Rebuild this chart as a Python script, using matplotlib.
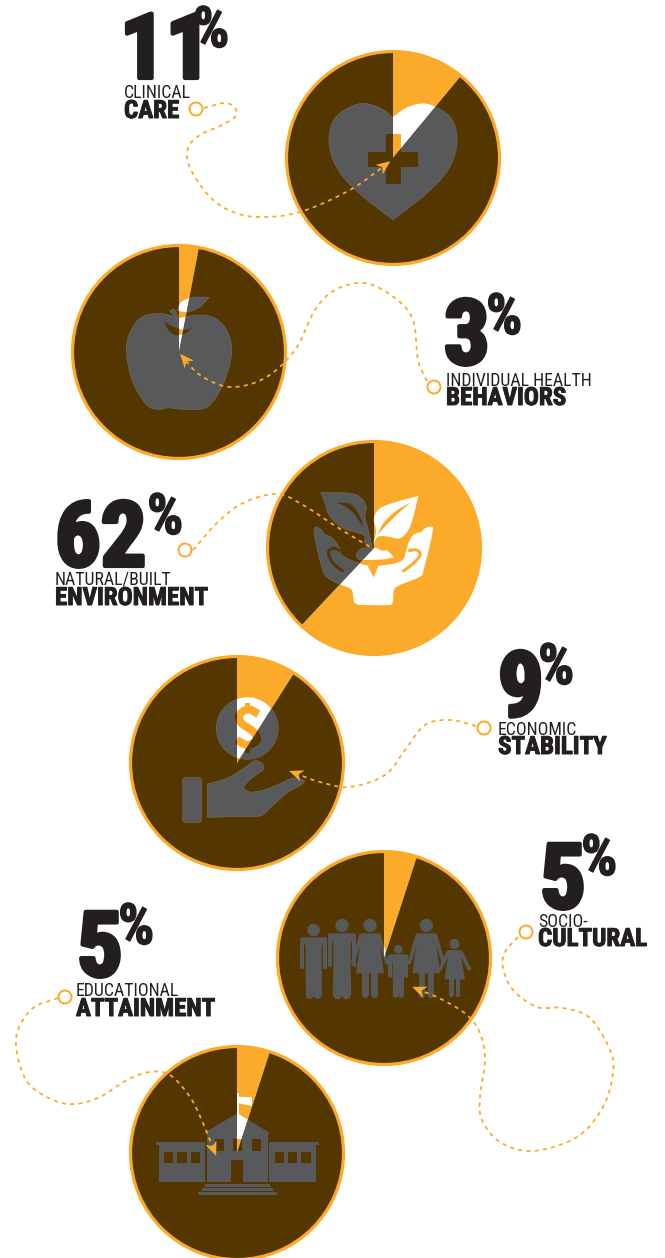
import numpy as np
import matplotlib
matplotlib.use('Agg')
import matplotlib.pyplot as plt
import matplotlib.patheffects as pe
from matplotlib.patches import Circle, Polygon

# === Data ===
categories = ['Clinical care', 'Individual health behaviors', 'Natural/built environment',
              'Economic stability', 'Socio-cultural', 'Educational attainment']
shares = [11, 3, 62, 9, 5, 5]
thin_labels = ['CLINICAL', 'INDIVIDUAL HEALTH', 'NATURAL/BUILT', 'ECONOMIC', 'SOCIO-', 'EDUCATIONAL']
bold_labels = ['CARE', 'BEHAVIORS', 'ENVIRONMENT', 'STABILITY', 'CULTURAL', 'ATTAINMENT']

# === Layout (all in image pixels) ===
W, H = 665, 1258
ORANGE = '#fcaa2a'
BROWN = '#533600'
GRAY = '#58595b'
INK = '#231f20'
FONT = ['Roboto Condensed', 'Liberation Sans']

centers = [(393, 158), (179, 352), (374, 548), (237, 763), (384, 958), (237, 1153)]
big_xy = [(120, 78), (444, 364), (55, 566), (498, 716), (540, 908), (77, 976)]
pct_xy = [(193, 47), (486, 334), (147, 534), (538, 684), (581, 875), (118, 944)]
thin_xy = [(124, 98), (446, 386), (55, 585), (498, 735), (538, 927), (76, 996)]
bold_xy = [(124, 118), (446, 405), (55, 605), (498, 754), (538, 946), (76, 1016)]
rings = [(196, 109), (434, 387), (185, 550), (484, 728), (526, 932), (65, 997)]

connectors = [
    [(204, 108), (225, 103), (235, 108), (235, 117), (220, 126), (200, 135), (188, 148), (190, 168),
     (210, 197), (233, 212), (260, 217), (300, 212), (350, 190), (388, 163)],
    [(427, 381), (418, 360), (413, 320), (395, 298), (365, 283), (335, 290), (315, 310), (295, 350),
     (265, 378), (230, 387), (200, 375), (182, 356)],
    [(193, 550), (217, 523), (243, 503), (277, 494), (303, 505), (337, 527), (370, 547)],
    [(476, 726), (450, 720), (425, 725), (405, 750), (385, 775), (350, 787), (320, 782), (292, 772)],
    [(518, 937), (505, 952), (503, 968), (513, 990), (537, 1007), (563, 1008), (590, 1018), (610, 1050),
     (613, 1073), (603, 1107), (577, 1137), (533, 1151), (500, 1142), (482, 1120), (480, 1097),
     (485, 1060), (480, 1033), (467, 1015), (443, 1000), (415, 988)],
    [(58, 998), (33, 1008), (18, 1030), (17, 1053), (28, 1083), (53, 1100), (75, 1104), (100, 1097),
     (127, 1080), (150, 1072), (170, 1075), (190, 1097), (203, 1123), (215, 1153)],
]
has_arrow = [True, True, False, True, True, True]


# === Geometry helpers ===
def curve(pts, n=14):
    """Catmull-Rom through pts, sampled as a polyline"""
    p = np.array(pts, float)
    if len(p) == 2:
        return p
    q = np.vstack([2 * p[0] - p[1], p, 2 * p[-1] - p[-2]])
    out = []
    for i in range(1, len(q) - 2):
        for t in np.linspace(0, 1, n, endpoint=False):
            out.append(0.5 * (2 * q[i] + (q[i + 1] - q[i - 1]) * t
                              + (2 * q[i - 1] - 5 * q[i] + 4 * q[i + 1] - q[i + 2]) * t ** 2
                              + (3 * q[i] - q[i - 1] - 3 * q[i + 1] + q[i + 2]) * t ** 3))
    out.append(p[-1])
    return np.array(out)


def outline(*segs):
    """Join curves; their end points stay as sharp corners"""
    return np.vstack([curve(s) for s in segs])


def crop(x0, y0, pts):
    return [(x0 + a / 3, y0 + b / 3) for a, b in pts]


def disc(cx, cy, r):
    t = np.linspace(0, 2 * np.pi, 64)
    return np.column_stack([cx + r * np.cos(t), cy + r * np.sin(t)])


def thick(pts, w):
    """Stroke a polyline into a polygon of width w"""
    c = curve(pts)
    d = np.gradient(c, axis=0)
    d /= np.linalg.norm(d, axis=1, keepdims=True)
    nrm = np.column_stack([-d[:, 1], d[:, 0]]) * w / 2
    return np.vstack([c + nrm, (c - nrm)[::-1]])


def box(x0, y0, x1, y1):
    return np.array([(x0, y0), (x1, y0), (x1, y1), (x0, y1)], float)


def rbox(x0, y0, x1, y1, r):
    pts = []
    for cx, cy, a in [(x1 - r, y0 + r, -90), (x1 - r, y1 - r, 0), (x0 + r, y1 - r, 90), (x0 + r, y0 + r, 180)]:
        t = np.radians(a + np.linspace(0, 90, 8))
        pts.append(np.column_stack([cx + r * np.cos(t), cy + r * np.sin(t)]))
    return np.vstack(pts)


# === Icons: (solid shapes, cut-outs) ===
def heart_icon():
    half = [(393, 220), (360, 194), (338, 170), (329, 143), (335, 118), (358, 104), (378, 107), (393, 117)]
    other = [(786 - x, y) for x, y in half][::-1]
    cross = [box(386, 134, 401, 184), box(368, 152, 418, 167)]
    return [outline(half, other)], cross


def apple_icon():
    z = lambda *p: crop(110, 280, p)
    body = outline(z((205, 115), (150, 100), (90, 115), (55, 170), (50, 230), (70, 310), (110, 375), (145, 388), (175, 383)),
                   z((175, 383), (205, 387), (270, 388), (305, 370), (345, 300), (365, 215), (350, 150), (310, 112), (260, 105), (205, 115)))
    leaf = outline(z((200, 92), (215, 65), (250, 52), (298, 52)), z((298, 52), (270, 80), (235, 96), (200, 92)))
    stem = np.array(z((178, 92), (192, 87), (206, 110), (200, 118)))
    crescent = outline(z((163, 125), (190, 140), (225, 150), (248, 142)), z((248, 142), (225, 160), (195, 165), (175, 150), (163, 125)))
    return [body, leaf, stem], [crescent]


def leaves_icon():
    z = lambda *p: crop(300, 480, p)
    left_leaf = outline(z((62, 37), (120, 38), (170, 45), (198, 75), (195, 110), (205, 150), (216, 200)),
                        z((216, 200), (195, 190), (190, 165), (130, 145), (90, 110), (75, 70), (62, 37)))
    right_leaf = outline(z((355, 48), (290, 65), (240, 85), (222, 115), (228, 155), (218, 195)),
                         z((218, 195), (235, 170), (265, 170), (300, 175), (325, 150), (340, 110), (355, 48)))
    hands = outline(z((50, 140), (42, 150), (50, 200), (68, 270), (85, 295), (125, 315), (155, 330), (162, 365), (175, 375)),
                    z((175, 375), (265, 375), (278, 365), (282, 330), (300, 315), (360, 290), (372, 265), (398, 155), (392, 140), (375, 145), (365, 155)),
                    z((365, 155), (340, 165), (325, 190), (318, 215), (300, 245), (220, 258), (165, 245), (125, 225), (120, 205), (95, 172), (75, 165), (65, 150), (50, 140)))
    soil = outline(z((168, 222), (185, 205), (215, 203), (232, 205), (245, 212), (262, 212), (282, 232)),
                   z((282, 232), (250, 238), (200, 240), (175, 238), (168, 222)))
    slit_l = outline(z((110, 68), (150, 72), (175, 100), (192, 145)), z((192, 145), (165, 105), (140, 82), (110, 68)))
    slit_r = outline(z((335, 65), (285, 95), (250, 130), (232, 165)), z((232, 165), (255, 140), (295, 100), (335, 65)))
    thumb_l = thick(z((122, 212), (100, 205), (85, 218), (100, 250), (130, 275)), 3.0)
    thumb_r = thick(z((325, 212), (350, 210), (360, 225), (340, 250), (308, 275)), 3.0)
    notch = np.array(z((203, 258), (235, 258), (221, 292)))
    return [left_leaf, right_leaf, hands, soil], [slit_l, slit_r, thumb_l, thumb_r, notch]


def coin_icon():
    z = lambda *p: crop(170, 690, p)
    coin = disc(247.3, 728.3, 31)
    cuff = rbox(182.7, 777.3, 201.7, 822.7, 3)
    hand = outline(z((112, 282), (170, 265), (225, 232), (255, 212), (278, 222), (278, 240), (245, 265), (222, 290),
                     (235, 305), (270, 303), (320, 285), (365, 265), (395, 268), (400, 280), (350, 310), (305, 350), (270, 378), (200, 380), (112, 382)),
                   z((112, 382), (112, 282)))
    dollar = thick(z((265, 72), (235, 58), (208, 75), (215, 100), (250, 125), (260, 150), (232, 165), (200, 150)), 8)
    bars = [np.array(z((225, 38), (240, 38), (240, 60), (225, 60))), np.array(z((225, 165), (240, 165), (240, 188), (225, 188)))]
    return [coin, cuff, hand], [dollar] + bars


def limb(a, b, w):
    ax_, ay_ = a
    bx_, by_ = b
    d = np.array([by_ - ay_, ax_ - bx_], float)
    d *= w / 2 / np.hypot(*d)
    rect = np.array([(ax_ + d[0], ay_ + d[1]), (bx_ + d[0], by_ + d[1]), (bx_ - d[0], by_ - d[1]), (ax_ - d[0], ay_ - d[1])])
    return [rect, disc(ax_, ay_, w / 2), disc(bx_, by_, w / 2)]


def family_icon():
    out = []
    z = lambda *p: crop(295, 910, p)
    men = [(56, 60, 19, 82, 40, 172, 24), (141, 46, 20, 70, 43, 165, 26), (310, 118, 13, 133, 30, 198, 17)]
    for cx, hy, hr, top, half, arm, torso in men:
        (hx, hyy), = z((cx, hy))
        out.append(disc(hx, hyy, hr / 3))
        out.append(np.array(z((cx - half + 6, top), (cx + half - 6, top), (cx + torso, top + 30), (cx + torso, 215), (cx - torso, 215), (cx - torso, top + 30))))
        for s in (-1, 1):
            out += limb(z((cx + s * (half - 6), top + 6))[0], z((cx + s * (half - 6), arm))[0], 12 / 3)
            out += limb(z((cx + s * torso / 2, 200))[0], z((cx + s * torso / 2, 255))[0], torso / 3)
    women = [(225, 46, 20, 70, 190, 42, 33), (394, 46, 20, 70, 190, 42, 33), (479, 102, 15, 120, 208, 31, 25)]
    for cx, hy, hr, top, hem, half, sh in women:
        (hx, hyy), = z((cx, hy))
        out.append(disc(hx, hyy, hr / 3))
        out.append(np.array(z((cx - sh + 8, top), (cx + sh - 8, top), (cx + half, hem), (cx - half, hem))))
        for s in (-1, 1):
            out += limb(z((cx + s * (sh - 6), top + 6))[0], z((cx + s * (sh + 18), hem - 32))[0], 11 / 3)
            out += limb(z((cx + s * half * 0.33, hem))[0], z((cx + s * half * 0.33, 255))[0], half * 0.45 / 3)
    return out, []


def school_icon():
    z = lambda *p: crop(0, 980, p)
    zbox = lambda a, b, c, d: np.array(z((a, b), (c, b), (c, d), (a, d)))
    solid = [zbox(622, 460, 803, 605), np.array(z((610, 460), (712, 400), (812, 460))),
             zbox(468, 487, 615, 495), zbox(477, 495, 615, 605),
             zbox(808, 487, 957, 495), zbox(808, 495, 947, 605),
             zbox(615, 612, 810, 620), zbox(606, 625, 818, 633), zbox(594, 637, 830, 645),
             zbox(711, 340, 716, 520), np.array(z((716, 350), (756, 352), (756, 378), (716, 370)))]
    holes = [zbox(a, 477, a + 27, 514) for a in (645, 698, 755)]
    holes += [zbox(a, 515, a + 28, 550) for a in (492, 532, 572, 824, 864, 904)]
    holes.append(zbox(694, 541, 730, 605))
    return solid, holes


icons = [heart_icon, apple_icon, leaves_icon, coin_icon, family_icon, school_icon]
icon_edges = ['#7f7258', '#7f7258', '#7f7258', '#7f7258', None, None]


# === Drawing ===
def paint(ax, shapes, wedges, on_orange, on_brown, edge=None):
    for shape in shapes:
        for wedge, color in zip(wedges, (on_orange, on_brown)):
            ec = edge if (edge and color == GRAY) else 'none'
            poly = Polygon(shape, closed=True, fc=color, ec=ec, lw=0.35, zorder=3)
            ax.add_patch(poly)
            poly.set_clip_path(wedge)


def arrow_head(ax, pts, tip_len=14, half=6):
    c = curve(pts)
    tip = c[-1]
    d = tip - c[-5]
    d /= np.hypot(*d)
    n = np.array([-d[1], d[0]])
    # slightly swept head like the original
    head = [tip + d * 3, tip - d * tip_len * 0.8 + n * half, tip - d * tip_len * 0.5, tip - d * tip_len * 0.8 - n * half]
    ax.add_patch(Polygon(head, closed=True, fc=ORANGE, ec='none', zorder=6))


fig = plt.figure(figsize=(W / 100, H / 100), dpi=100)
ax = fig.add_axes([0, 0, 1, 1])

for i, share in enumerate(shares):
    # y axis runs downward here, so -90 is twelve o'clock and ccw reads clockwise
    wedges, _ = ax.pie([share, 100 - share], center=centers[i], radius=106, startangle=-90,
                       counterclock=True, colors=[ORANGE, BROWN])
    ax.add_patch(Circle(centers[i], 106.5, fc='none', ec=ORANGE, lw=2.3, zorder=4))
    solid, holes = icons[i]()
    paint(ax, solid, wedges, 'white', GRAY, edge=icon_edges[i])
    paint(ax, holes, wedges, ORANGE, BROWN)

    xs, ys = curve(connectors[i]).T
    ax.plot(xs, ys, color=ORANGE, lw=1.3, ls=(0, (2.2, 2.4)), zorder=5)
    if has_arrow[i]:
        arrow_head(ax, connectors[i])
    ax.add_patch(Circle(rings[i], 6.5, fc='none', ec=ORANGE, lw=1.4, zorder=5))

    heavy = [pe.withStroke(linewidth=3, foreground=INK)]
    ax.text(*big_xy[i], str(share), family=FONT, weight='bold', fontsize=65, color=INK,
            ha='left', va='baseline', path_effects=heavy)
    ax.text(*pct_xy[i], '%', family=FONT, weight='bold', fontsize=41, color=INK,
            ha='left', va='baseline', path_effects=[pe.withStroke(linewidth=1.0, foreground=INK)])
    ax.text(*thin_xy[i], thin_labels[i], family=FONT, fontsize=12.8, color=INK, ha='left', va='baseline')
    ax.text(*bold_xy[i], bold_labels[i], family=FONT, weight='bold', fontsize=18, color=INK,
            ha='left', va='baseline', path_effects=[pe.withStroke(linewidth=0.7, foreground=INK)])

ax.set_xlim(0, W)
ax.set_ylim(H, 0)
ax.set_aspect('equal')
ax.axis('off')
fig.savefig('out.png', dpi=100, facecolor='white')
